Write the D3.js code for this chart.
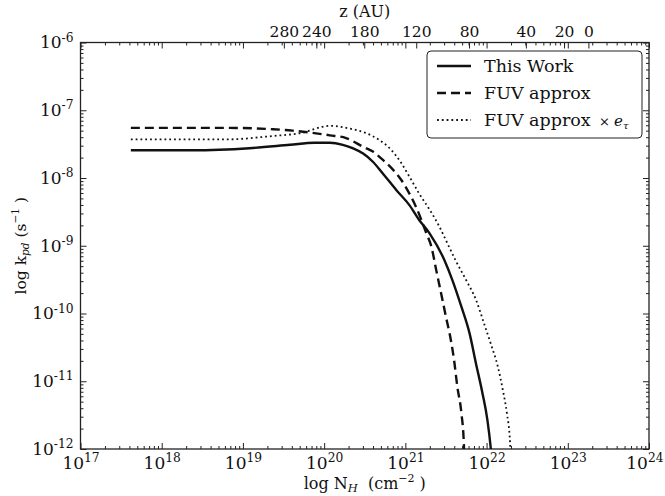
<!DOCTYPE html>
<html>
<head>
<meta charset="utf-8">
<script src="https://cdn.jsdelivr.net/npm/d3@7"></script>
<style>
  html, body { margin: 0; padding: 0; background: #fff; }
  svg { display: block; }
  text { font-family: "DejaVu Serif", serif; fill: #111; }
</style>
</head>
<body>
<svg id="chart" width="665" height="496"></svg>
<script>
// ---- data (log10 values) ----
const xTickExps = [17, 18, 19, 20, 21, 22, 23, 24];
const yTickExps = [-12, -11, -10, -9, -8, -7, -6];

const zLabels = [280, 240, 180, 120, 80, 40, 20, 0];
const zLogNH  = [19.51, 19.91, 20.50, 21.14, 21.79, 22.49, 22.96, 23.26];

const thisWorkLogN = [17.62, 18.38, 19.08, 19.58, 19.88, 20.07, 20.23, 20.35, 20.48, 20.60, 20.72, 20.89, 21.05, 21.17, 21.30, 21.48, 21.58, 21.69, 21.79, 21.87, 21.95, 22.01, 22.05, 22.06];
const thisWorkLogK = [-7.59, -7.59, -7.56, -7.51, -7.48, -7.48, -7.51, -7.56, -7.64, -7.76, -7.93, -8.18, -8.40, -8.62, -8.82, -9.21, -9.51, -9.90, -10.29, -10.74, -11.18, -11.57, -11.97, -12.10];

const fuvLogN = [17.62, 18.80, 19.37, 19.61, 20.07, 20.27, 20.48, 20.60, 20.72, 20.85, 20.95, 21.05, 21.14, 21.26, 21.32, 21.38, 21.44, 21.50, 21.56, 21.60, 21.64, 21.69, 21.72, 21.725];
const fuvLogK = [-7.26, -7.26, -7.28, -7.30, -7.37, -7.41, -7.54, -7.61, -7.73, -7.88, -8.03, -8.23, -8.45, -8.82, -9.01, -9.36, -9.70, -10.05, -10.39, -10.69, -11.08, -11.47, -11.92, -12.10];

const fuvTauLogN = [17.62, 18.80, 19.37, 19.70, 20.07, 20.31, 20.52, 20.68, 20.83, 20.95, 21.05, 21.17, 21.30, 21.42, 21.50, 21.62, 21.75, 21.87, 21.97, 22.05, 22.14, 22.20, 22.25, 22.29, 22.295];
const fuvTauLogK = [-7.43, -7.43, -7.38, -7.34, -7.23, -7.27, -7.34, -7.44, -7.59, -7.78, -7.98, -8.23, -8.47, -8.72, -8.92, -9.22, -9.51, -9.80, -10.15, -10.44, -10.79, -11.13, -11.47, -11.92, -12.10];

const legendLabels = ["This Work", "FUV approx", "FUV approx"];

// ---- layout ----
const L = 80.5, R = 649, T = 42.5, B = 449;
const ink = "#222";

const svg = d3.select("#chart");
const x = d3.scaleLog().domain([1e17, 1e24]).range([L, R]);
const y = d3.scaleLog().domain([1e-12, 1e-6]).range([B, T]);

const xMajor = xTickExps.map(e => Math.pow(10, e));
const xMinor = [];
xTickExps.slice(0, -1).forEach(e => { for (let m = 2; m <= 9; m++) xMinor.push(m * Math.pow(10, e)); });
const yMajor = yTickExps.map(e => Math.pow(10, e));
const yMinor = [];
yTickExps.slice(0, -1).forEach(e => { for (let m = 2; m <= 9; m++) yMinor.push(m * Math.pow(10, e)); });

function supLabel(sel) {
  sel.selectAll("text").each(function(d) {
    const t = d3.select(this);
    const e = Math.round(Math.log10(d));
    t.text(null);
    t.append("tspan").text("10");
    t.append("tspan").attr("dy", "-0.55em").attr("font-size", "0.72em").text(String(e));
  });
}

function styleAxis(g) {
  g.select(".domain").remove();
  g.selectAll("line").attr("stroke", ink).attr("stroke-width", 1);
}

// bottom
const gxb = svg.append("g").attr("transform", `translate(0,${B})`)
  .call(d3.axisBottom(x).tickValues(xMajor).tickSize(-6).tickPadding(8))
  .call(styleAxis);
gxb.selectAll("text").attr("font-size", 17).attr("font-family", "DejaVu Serif");
supLabel(gxb);
// keep the last label inside the page, as in the reference
gxb.selectAll("text").filter(d => d === xMajor[xMajor.length - 1])
  .attr("text-anchor", "end").attr("x", 663 - R);
svg.append("g").attr("transform", `translate(0,${B})`)
  .call(d3.axisBottom(x).tickValues(xMinor).tickSize(-3).tickFormat(""))
  .call(styleAxis);

// top (mirrored log ticks)
svg.append("g").attr("transform", `translate(0,${T})`)
  .call(d3.axisTop(x).tickValues(xMajor).tickSize(-6).tickFormat(""))
  .call(styleAxis);
svg.append("g").attr("transform", `translate(0,${T})`)
  .call(d3.axisTop(x).tickValues(xMinor).tickSize(-3).tickFormat(""))
  .call(styleAxis);

// left
const gyl = svg.append("g").attr("transform", `translate(${L},0)`)
  .call(d3.axisLeft(y).tickValues(yMajor).tickSize(-6).tickPadding(7))
  .call(styleAxis);
gyl.selectAll("text").attr("font-size", 17).attr("font-family", "DejaVu Serif");
supLabel(gyl);
svg.append("g").attr("transform", `translate(${L},0)`)
  .call(d3.axisLeft(y).tickValues(yMinor).tickSize(-3).tickFormat(""))
  .call(styleAxis);

// right (mirrored)
svg.append("g").attr("transform", `translate(${R},0)`)
  .call(d3.axisRight(y).tickValues(yMajor).tickSize(-6).tickFormat(""))
  .call(styleAxis);
svg.append("g").attr("transform", `translate(${R},0)`)
  .call(d3.axisRight(y).tickValues(yMinor).tickSize(-3).tickFormat(""))
  .call(styleAxis);

// z (AU) secondary top axis
const zData = zLabels.map((z, i) => ({ z, n: Math.pow(10, zLogNH[i]) }));
const gz = svg.append("g").attr("transform", `translate(0,${T})`);
gz.selectAll("line.zt").data(zData).join("line")
  .attr("x1", d => x(d.n)).attr("x2", d => x(d.n))
  .attr("y1", 0).attr("y2", 6).attr("stroke", ink).attr("stroke-width", 1);
gz.selectAll("text.zl").data(zData).join("text")
  .attr("x", d => x(d.n)).attr("y", -6)
  .attr("text-anchor", "middle").attr("font-size", 15.5)
  .text(d => d.z);
svg.append("text").attr("x", (L + R) / 2).attr("y", 17)
  .attr("text-anchor", "middle").attr("font-size", 16).text("z (AU)");

// frame
svg.append("rect").attr("x", L).attr("y", T).attr("width", R - L).attr("height", B - T)
  .attr("fill", "none").attr("stroke", ink).attr("stroke-width", 1.3);

// clip
svg.append("clipPath").attr("id", "plotclip").append("rect")
  .attr("x", L).attr("y", T).attr("width", R - L).attr("height", B - T);

const line = d3.line()
  .x(d => x(Math.pow(10, d[0])))
  .y(d => y(Math.pow(10, d[1])))
  .curve(d3.curveMonotoneX);

const series = [
  { n: thisWorkLogN, k: thisWorkLogK, w: 2.4, dash: null },
  { n: fuvLogN, k: fuvLogK, w: 2.4, dash: "9,5" },
  { n: fuvTauLogN, k: fuvTauLogK, w: 1.8, dash: "1.8,3" }
];
const gl = svg.append("g").attr("clip-path", "url(#plotclip)");
series.forEach(s => {
  gl.append("path")
    .datum(s.n.map((v, i) => [v, s.k[i]]))
    .attr("d", line)
    .attr("fill", "none")
    .attr("stroke", "#111")
    .attr("stroke-width", s.w)
    .attr("stroke-dasharray", s.dash);
});

// axis titles
const xt = svg.append("text").attr("x", (L + R) / 2).attr("y", 489)
  .attr("text-anchor", "middle").attr("font-size", 16);
xt.append("tspan").text("log N");
xt.append("tspan").attr("font-size", 11.5).attr("font-style", "italic").attr("dy", 3).text("H");
xt.append("tspan").attr("dy", -3).text("\u00a0\u00a0(cm");
xt.append("tspan").attr("font-size", 11).attr("dy", -7).text("\u22122");
xt.append("tspan").attr("dy", 7).text("\u00a0)");

const yt = svg.append("text")
  .attr("transform", `translate(26,${(T + B) / 2}) rotate(-90)`)
  .attr("text-anchor", "middle").attr("font-size", 15.5);
yt.append("tspan").text("log k");
yt.append("tspan").attr("font-size", 10.5).attr("font-style", "italic").attr("dy", 3).text("pd");
yt.append("tspan").attr("dy", -3).text(" (s");
yt.append("tspan").attr("font-size", 10.5).attr("dy", -7).text("\u22121");
yt.append("tspan").attr("dy", 7).text("\u00a0)");

// legend
const lg = svg.append("g");
lg.append("rect").attr("x", 427).attr("y", 51).attr("width", 215).attr("height", 87)
  .attr("rx", 4).attr("fill", "#fff").attr("stroke", ink).attr("stroke-width", 1);
const rowsY = [66, 93, 120];
series.forEach((s, i) => {
  lg.append("line").attr("x1", 437).attr("x2", 471).attr("y1", rowsY[i]).attr("y2", rowsY[i])
    .attr("stroke", "#111").attr("stroke-width", s.w).attr("stroke-dasharray", s.dash);
  const t = lg.append("text").attr("x", 484).attr("y", rowsY[i] + 6).attr("font-size", 17.5)
    .text(legendLabels[i]);
  if (i === 2) {
    t.append("tspan").attr("font-size", 13).text("\u00a0\u00a0\u00d7 ");
    t.append("tspan").attr("font-size", 15).attr("font-style", "italic").text("e");
    t.append("tspan").attr("font-size", 10).attr("font-style", "italic").attr("dy", 3).text("\u03c4");
  }
});
</script>
</body>
</html>
